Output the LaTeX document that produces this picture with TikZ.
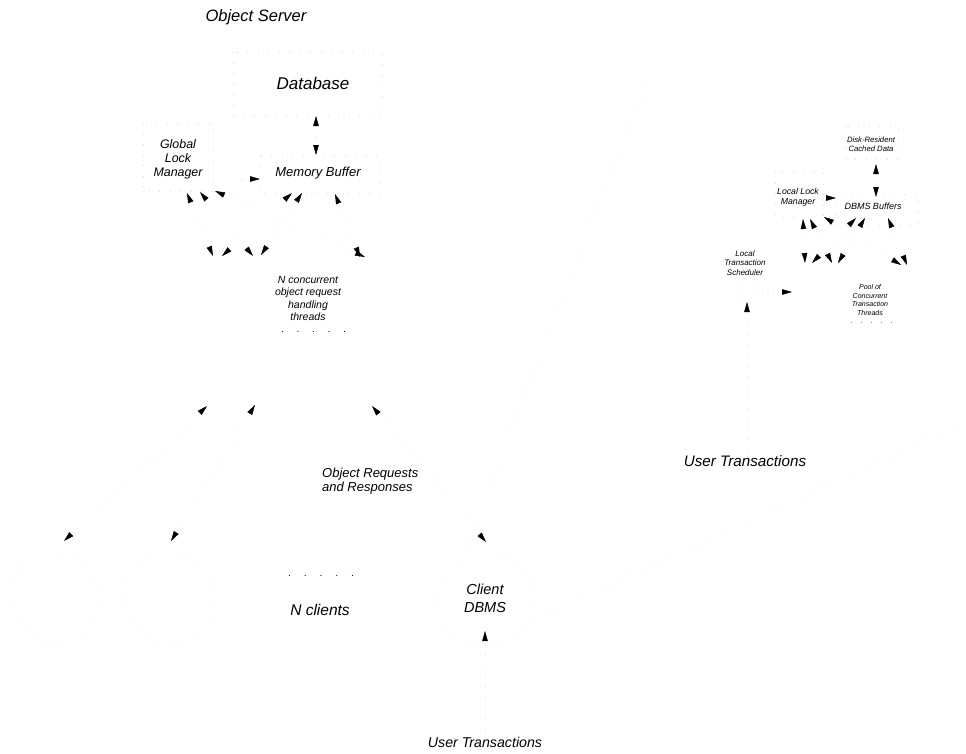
\documentclass[tikz,border=0pt]{standalone}
\usepackage{fontspec}
\setmainfont{Liberation Sans}
\usetikzlibrary{arrows.meta,shapes.geometric}
\newcommand\myfs[2]{\fontsize{#1}{#2}\selectfont\itshape}
\tikzset{
  faint/.style={draw=black!13, line width=0.45pt, dash pattern=on 0.5pt off 10pt},
  wedge/.tip={Triangle[length=10pt,width=5.5pt,color=black]},
  con/.style={faint,{wedge}-{wedge}},
  one/.style={faint,-{wedge}},
  lbl/.style={inner sep=0pt, align=center, text=black},
}
\begin{document}
\begin{tikzpicture}[x=1pt,y=-1pt]
\path[use as bounding box] (0,0) rectangle (966,753);

% ---------------- left panel: object server ----------------
\node[lbl, font=\myfs{16.5}{19}] (os) at (256,17) {Object Server};
\node[lbl, font=\myfs{17}{20}] (db) at (313,83) {Database};
\node[lbl, font=\myfs{12.4}{14}] (glm) at (178,159) {Global\\Lock\\Manager};
\node[lbl, font=\myfs{13}{15}] (mb) at (318,173) {Memory Buffer};
\draw[faint] (233,52) rectangle (382,115);
\draw[faint] (143,123) rectangle (213,191);
\draw[faint] (260,155) rectangle (380,193);

\coordinate (dbS) at (316,116);
\coordinate (mbN) at (316,155);
\draw[con] (dbS) -- (mbN);
\coordinate (glmE) at (241,179);
\coordinate (mbW) at (260,179);
\draw[one] (glmE) -- (mbW);

% lock manager / buffer to threads
\coordinate (g1) at (187,193); \coordinate (t1) at (213,256);
\coordinate (m1) at (292,193); \coordinate (t2) at (222,256);
\coordinate (g2) at (200,192); \coordinate (t3) at (253,256);
\coordinate (m2) at (302,193); \coordinate (t4) at (261,255);
\coordinate (g3) at (215,191); \coordinate (t5) at (365,257);
\coordinate (m3) at (335,194); \coordinate (t6) at (360,257);
\draw[con] (g1) -- (t1);
\draw[con] (m1) -- (t2);
\draw[con] (g2) -- (t3);
\draw[con] (m2) -- (t4);
\draw[con] (g3) -- (t5);
\draw[con] (m3) -- (t6);

\node[lbl, font=\myfs{10.5}{12.3}] (thr) at (308,298.5) {N concurrent\\object request\\handling\\threads};
\node[lbl, font=\myfs{10}{12}] (thdots) at (314,332) {.\hspace{12.7pt}.\hspace{12.7pt}.\hspace{12.7pt}.\hspace{12.7pt}.};

% threads to clients
\coordinate (b1) at (207,406); \coordinate (c1t) at (64,541);
\coordinate (b2) at (255,405); \coordinate (c2t) at (171,541);
\coordinate (b3) at (372,406); \coordinate (cdtop) at (486,542);
\draw[con] (b1) -- (c1t);
\draw[con] (b2) -- (c2t);
\draw[con] (b3) -- (cdtop);

\node[lbl, font=\myfs{13}{14}, align=left, anchor=west] (orr) at (322,481.5) {Object Requests\\and Responses};

% clients
\node[faint, circle, minimum size=90pt, inner sep=0pt] (c1) at (55,598) {};
\node[faint, circle, minimum size=90pt, inner sep=0pt] (c2) at (170,598) {};
\node[faint, circle, minimum size=96pt, inner sep=0pt] (cd) at (485,600) {};
\node[lbl, font=\myfs{14.5}{18}] (cdtxt) at (485,598) {Client\\DBMS};
\node[lbl, font=\myfs{10}{12}] (cldots) at (321.5,576) {.\hspace{13pt}.\hspace{13pt}.\hspace{13pt}.\hspace{13pt}.};
\node[lbl, font=\myfs{15.5}{18}] (ncl) at (320,610) {N clients};

\node[lbl, font=\myfs{14.2}{17}] (ut1) at (485,742) {User Transactions};
\coordinate (ut1N) at (485,729);
\coordinate (cdS) at (485,631);
\draw[one] (ut1N) -- (cdS);

% magnifier lines
\coordinate (cdNW) at (458,566);
\coordinate (zTL) at (649,77);
\coordinate (cdSE) at (526,624);
\coordinate (zBR) at (962,423);
\draw[faint] (cdNW) -- (zTL);
\draw[faint] (cdSE) -- (zBR);

% ---------------- right panel: client DBMS detail ----------------
\node[lbl, font=\myfs{7.7}{9}] (dr) at (871,144.5) {Disk-Resident\\Cached Data};
\draw[faint] (846,126) rectangle (898,159);
\node[lbl, font=\myfs{8.7}{10}] (llm) at (798,197) {Local Lock\\Manager};
\draw[faint] (775,172) rectangle (823,217);
\node[lbl, font=\myfs{9}{11}] (dbb) at (873,206) {DBMS Buffers};
\draw[faint] (836,194) rectangle (918,225);

\coordinate (drS) at (876,164); \coordinate (dbbN) at (876,197);
\draw[con] (drS) -- (dbbN);
\coordinate (llmE) at (819,198); \coordinate (dbbW) at (836,198);
\draw[one] (llmE) -- (dbbW);

\coordinate (l1) at (803,219); \coordinate (p1) at (805,263);
\coordinate (d1) at (856,218); \coordinate (p2) at (812,263);
\coordinate (l2) at (810,219); \coordinate (p3) at (832,263);
\coordinate (d2) at (865,218); \coordinate (p4) at (838,263);
\coordinate (l3) at (824,217); \coordinate (p5) at (901,265);
\coordinate (d3) at (888,218); \coordinate (p6) at (907,265);
\draw[con] (l1) -- (p1);
\draw[con] (d1) -- (p2);
\draw[con] (l2) -- (p3);
\draw[con] (d2) -- (p4);
\draw[con] (l3) -- (p5);
\draw[con] (d3) -- (p6);

\node[lbl, font=\myfs{8}{9.5}] (lts) at (745,263) {Local\\Transaction\\Scheduler};
\node[faint, ellipse, minimum width=22pt, minimum height=19pt, inner sep=0pt] (ltso) at (747,291) {};
\coordinate (ltsE) at (762,292); \coordinate (poolW) at (792,292);
\draw[one] (ltsE) -- (poolW);

\node[lbl, font=\myfs{7}{8.5}] (pool) at (870,300) {Pool of\\Concurrent\\Transaction\\Threads};
\node[lbl, font=\myfs{7}{8}] (pldots) at (872,323) {.\hspace{8pt}.\hspace{8pt}.\hspace{8pt}.\hspace{8pt}.};

\node[lbl, font=\myfs{15.2}{18}] (ut2) at (745,461) {User Transactions};
\coordinate (ut2N) at (747,450);
\coordinate (ltsS) at (747,302);
\draw[one] (ut2N) -- (ltsS);
\end{tikzpicture}
\end{document}
